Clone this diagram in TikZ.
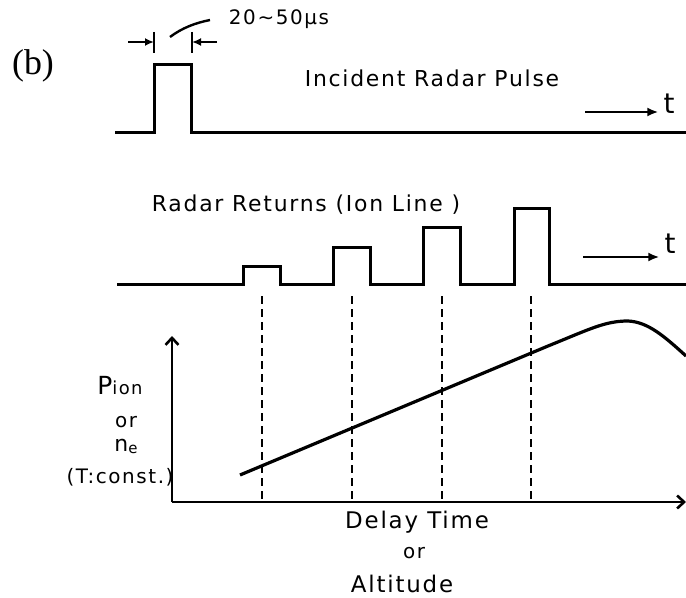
\documentclass[tikz,border=0pt]{standalone}
\usepackage{fontspec}
\setmainfont{DejaVu Sans}
\newfontfamily\handfont[LetterSpace=8]{DejaVu Sans}
\newfontfamily\tagfont{Liberation Serif}
\usetikzlibrary{arrows.meta,positioning}
\tikzset{
wave/.style={line width=3bp, line join=miter},
guide/.style={line width=2.2bp, dash pattern=on 8bp off 5bp},
axis/.style={line width=2.8bp, -{Straight Barb[length=7bp,width=13bp,line width=2.6bp]}},
tarrow/.style={line width=2.4bp, -{Latex[length=11bp,width=9bp]}},
dimarrow/.style={line width=2.4bp, -{Latex[length=9bp,width=8bp]}},
hand/.style={font=\handfont\fontsize{22}{24}\selectfont, inner sep=0pt},
small/.style={font=\handfont\fontsize{20}{22}\selectfont, inner sep=0pt},
tlabel/.style={font=\fontsize{28}{30}\selectfont, inner sep=0pt}
}

\begin{document}
\begin{tikzpicture}[x=1bp, y=-1bp]
\useasboundingbox (0,0) rectangle (686,598);
% incident pulse
\draw[wave] (115,133) -- (154,133) -- (154,65) -- (191,65) -- (191,133) -- (686,133);
\node[font=\tagfont\fontsize{36}{38}\selectfont, inner sep=0pt] (tag) at (33,66) {(b)};
\node[hand] (incident) at (432,78) {Incident Radar Pulse};
\coordinate (lt) at (154,42);
\coordinate (rt) at (192,42);
\draw[line width=2.4bp] (154,32) -- (154,53) (192,32) -- (192,53);
\draw[dimarrow] (128,42) -- (lt);
\draw[dimarrow] (217,42) -- (rt);
\node[small] (width) at (279,19) {20\textasciitilde50μs};
\coordinate (lead) at (210,20);
\draw[line width=2.4bp] (170,37) .. controls (182,28) and (195,23) .. (lead);
\node[tlabel] (t1) at (669,104) {t};
\coordinate (t1a) at (585,112);
\draw[tarrow] (t1a) -- ([xshift=-5bp]t1.west |- t1a);
% radar returns
\node[hand] (returns) at (306,205) {Radar Returns (Ion Line )};
\draw[wave] (117,284)
  \foreach \l/\r/\h [count=\i] in {243/280/266, 333/370/247, 423/460/227, 514/549/208}
  { -- (\l,284) -- (\l,\h) -- (\r,\h) -- (\r,284) coordinate (ret\i) }
  -- (686,284);
\node[tlabel] (t2) at (670,244) {t};
\coordinate (t2a) at (583,257);
\draw[tarrow] (t2a) -- ([xshift=-5bp]t2.west |- t2a);
% graph
\coordinate (o) at (172,502);
\draw[axis] (o) -- (172,336);
\draw[axis] (o) -- (686,502);
\foreach \i in {1,...,4}
  \draw[guide] ([xshift=-18bp,yshift=-12bp]ret\i) -- ([xshift=-18bp]ret\i |- o);
\draw[line width=3.2bp] (240,475) -- (548,346)
  .. controls (590,329) and (605,321) .. (628,321)
  .. controls (648,322) and (664,336) .. (686,356);
\node[small] (pion) at (120,386) {{\fontsize{25}{26}\selectfont P}{\fontsize{18}{20}\selectfont ion}};
\node[small] (or1) at (126,422) {or};
\node[small] (ne) at (126,446) {{\fontsize{22}{24}\selectfont n}\raisebox{-2bp}{\fontsize{15}{16}\selectfont e}};
\node[small] (tconst) at (120,477) {(T:const.)};
\node[hand, font=\handfont\fontsize{23}{24}\selectfont] (delay) at (417,522) {Delay Time};
\node[small] (or2) at (414,553) {or};
\node[hand, font=\handfont\fontsize{23}{24}\selectfont] (alt) at (402,584) {Altitude};
\end{tikzpicture}
\end{document}
